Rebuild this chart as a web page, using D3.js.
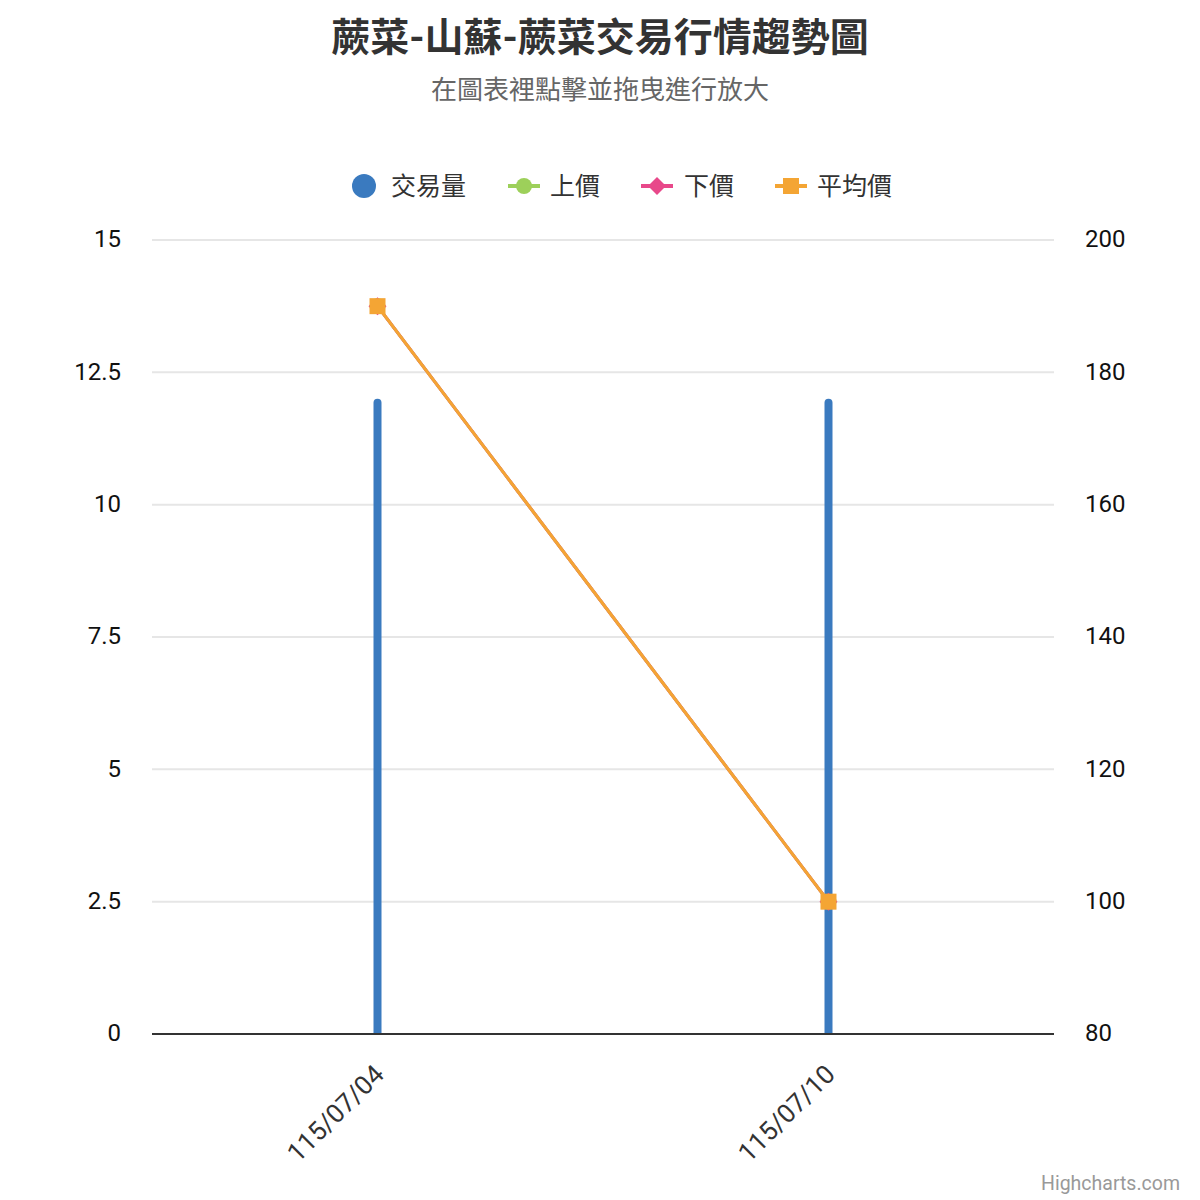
<!DOCTYPE html>
<html><head><meta charset="utf-8">
<script src="https://cdn.jsdelivr.net/npm/d3@7/dist/d3.min.js"></script>
<style>body{margin:0;background:#fff}svg{display:block}</style>
</head><body><svg id="c" width="1200" height="1200"></svg>
<script>
const categories = ["115/07/04", "115/07/10"];
const volume = [12, 12];
const upperPrice = [190, 100];
const lowerPrice = [190, 100];
const avgPrice = [190, 100];
const leftTicks = [0, 2.5, 5, 7.5, 10, 12.5, 15];
const rightTicks = [80, 100, 120, 140, 160, 180, 200];
const legendNames = ["交易量", "上價", "下價", "平均價"];
const colors = ["#3a7abf", "#9dd05a", "#e8488a", "#f4a534"];

const font = "Roboto, 'Noto Sans CJK TC', sans-serif";
const svg = d3.select("#c");
const L = 152, R = 1054, T = 240, B = 1034;

const x = d3.scaleBand().domain(categories).range([L, R]);
const yL = d3.scaleLinear().domain([0, 15]).range([B, T]);
const yR = d3.scaleLinear().domain([80, 200]).range([B, T]);

svg.append("text").attr("x", 600).attr("y", 51).attr("text-anchor", "middle")
  .attr("font-family", font).attr("font-size", 39).attr("font-weight", "bold").attr("fill", "#333")
  .text("蕨菜-山蘇-蕨菜交易行情趨勢圖");
svg.append("text").attr("x", 600).attr("y", 99).attr("text-anchor", "middle")
  .attr("font-family", font).attr("font-size", 26).attr("fill", "#666")
  .text("在圖表裡點擊並拖曳進行放大");

// grid
svg.append("g").selectAll("line").data(leftTicks.filter(d => d > 0)).join("line")
  .attr("x1", L).attr("x2", R).attr("y1", d => yL(d)).attr("y2", d => yL(d))
  .attr("stroke", "#e6e6e6").attr("stroke-width", 2);

// left axis
const gl = svg.append("g").attr("transform", `translate(${L - 31},0)`)
  .call(d3.axisLeft(yL).tickValues(leftTicks).tickSize(0).tickPadding(0).tickFormat(d => String(d)));
gl.select(".domain").remove();
gl.selectAll("text").attr("font-family", font).attr("font-size", 24).attr("fill", "#111").attr("dy", "0.28em");

const gr = svg.append("g").attr("transform", `translate(${R + 31},0)`)
  .call(d3.axisRight(yR).tickValues(rightTicks).tickSize(0).tickPadding(0));
gr.select(".domain").remove();
gr.selectAll("text").attr("font-family", font).attr("font-size", 24).attr("fill", "#111").attr("dy", "0.28em");

// bars
const bw = 8;
svg.append("g").selectAll("path").data(volume).join("path")
  .attr("d", (d, i) => {
    const cx = x(categories[i]) + x.bandwidth() / 2;
    const y0 = yL(0), y1 = yL(d), r = bw / 2;
    return `M${cx - r},${y0}V${y1 + r}A${r},${r} 0 0 1 ${cx + r},${y1 + r}V${y0}Z`;
  }).attr("fill", colors[0]);

// x axis
svg.append("line").attr("x1", L).attr("x2", R).attr("y1", B).attr("y2", B)
  .attr("stroke", "#333").attr("stroke-width", 2);
svg.append("g").selectAll("text").data(categories).join("text")
  .attr("transform", d => `translate(${x(d) + x.bandwidth() / 2 + 8},${B + 42}) rotate(-45)`)
  .attr("text-anchor", "end").attr("font-family", font).attr("font-size", 26).attr("fill", "#333")
  .text(d => d);

// lines
const line = d3.line().x((d, i) => x(categories[i]) + x.bandwidth() / 2).y(d => yR(d));
const series = [upperPrice, lowerPrice, avgPrice];
series.forEach((s, k) => {
  const c = colors[k + 1];
  svg.append("path").datum(s).attr("d", line).attr("fill", "none").attr("stroke", c).attr("stroke-width", 3);
  const g = svg.append("g");
  s.forEach((v, i) => {
    const cx = x(categories[i]) + x.bandwidth() / 2, cy = yR(v);
    if (k === 0) g.append("circle").attr("cx", cx).attr("cy", cy).attr("r", 8).attr("fill", c);
    else if (k === 1) g.append("path").attr("d", `M${cx},${cy - 9}L${cx + 9},${cy}L${cx},${cy + 9}L${cx - 9},${cy}Z`).attr("fill", c);
    else g.append("rect").attr("x", cx - 8).attr("y", cy - 8).attr("width", 16).attr("height", 16).attr("fill", c);
  });
});

// legend
const ly = 186;
const lg = svg.append("g");
lg.append("circle").attr("cx", 364).attr("cy", ly).attr("r", 12).attr("fill", colors[0]);
const lx = [[508, 550], [641, 684], [775, 817]];
lx.forEach(([sx, tx], k) => {
  const c = colors[k + 1];
  lg.append("line").attr("x1", sx).attr("x2", sx + 32).attr("y1", ly).attr("y2", ly).attr("stroke", c).attr("stroke-width", 4);
  const cx = sx + 16;
  if (k === 0) lg.append("circle").attr("cx", cx).attr("cy", ly).attr("r", 8).attr("fill", c);
  else if (k === 1) lg.append("path").attr("d", `M${cx},${ly - 9}L${cx + 9},${ly}L${cx},${ly + 9}L${cx - 9},${ly}Z`).attr("fill", c);
  else lg.append("rect").attr("x", cx - 8).attr("y", ly - 8).attr("width", 16).attr("height", 16).attr("fill", c);
});
const txs = [391, 550, 684, 817];
legendNames.forEach((n, i) => {
  lg.append("text").attr("x", txs[i]).attr("y", ly).attr("dy", "0.35em")
    .attr("font-family", font).attr("font-size", 25).attr("fill", "#333").text(n);
});

svg.append("text").attr("x", 1180).attr("y", 1190).attr("text-anchor", "end")
  .attr("font-family", font).attr("font-size", 19.5).attr("fill", "#999").text("Highcharts.com");
</script></body></html>
